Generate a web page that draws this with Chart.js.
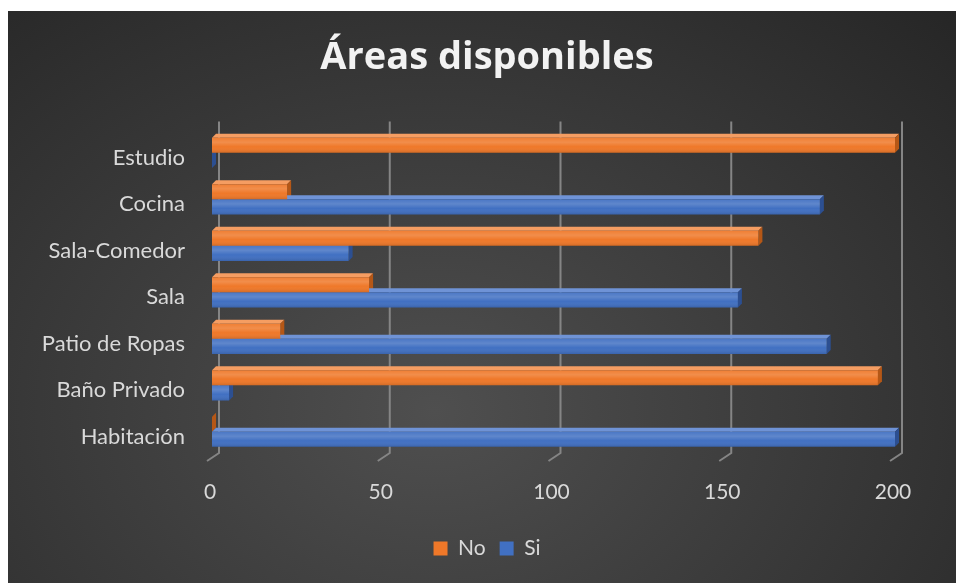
<!DOCTYPE html>
<html>
<head>
<meta charset="utf-8">
<script src="https://cdn.jsdelivr.net/npm/chart.js@4"></script>
<style>
html, body { margin: 0; padding: 0; background: #fff; }
#wrap {
  position: absolute; left: 8px; top: 11px; width: 948px; height: 572px;
  background: radial-gradient(ellipse farthest-corner at 45% 70%, #4f4f4f 0%, #262626 100%);
}
</style>
</head>
<body>
<div id="wrap"><canvas id="chartAreas"></canvas></div>
<script>
// data
var categories = ['Estudio', 'Cocina', 'Sala-Comedor', 'Sala', 'Patio de Ropas', 'Baño Privado', 'Habitación'];
var noValues = [200, 22, 160, 46, 20, 195, 0];
var siValues = [0, 178, 40, 154, 180, 5, 200];
var xTicks = [0, 50, 100, 150, 200];

var textColor = '#d9d9d9';

function eachBar(chart, fn) {
  chart.data.datasets.forEach(function(ds, i) {
    chart.getDatasetMeta(i).data.forEach(function(bar) {
      var p = bar.getProps(['x', 'y', 'base', 'height'], true);
      fn(ds, p, p.y - p.height / 2, p.y + p.height / 2);
    });
  });
}

// fake 3D: back grid lines + top / side faces of the bars
var depthPlugin = {
  id: 'depth3d',
  beforeDatasetsDraw: function(chart) {
    var ctx = chart.ctx, area = chart.chartArea, xs = chart.scales.x;
    ctx.save();
    ctx.strokeStyle = '#858585';
    ctx.lineWidth = 2;
    xTicks.forEach(function(v) {
      var px = xs.getPixelForValue(v);
      ctx.beginPath();
      ctx.moveTo(px - 5, area.bottom + 6);
      ctx.lineTo(px + 7, area.bottom - 2);
      ctx.lineTo(px + 7, area.top - 8);
      ctx.stroke();
    });
    var d = 4;
    eachBar(chart, function(ds, p, top, bot) {
      ctx.fillStyle = ds.topColor;
      ctx.beginPath();
      ctx.moveTo(p.base, top);
      ctx.lineTo(p.base + d, top - d);
      ctx.lineTo(p.x + d, top - d);
      ctx.lineTo(p.x, top);
      ctx.closePath();
      ctx.fill();
      ctx.fillStyle = ds.sideColor;
      ctx.beginPath();
      ctx.moveTo(p.x, top);
      ctx.lineTo(p.x + d, top - d);
      ctx.lineTo(p.x + d, bot - d);
      ctx.lineTo(p.x, bot);
      ctx.closePath();
      ctx.fill();
    });
    ctx.restore();
  },
  afterDatasetsDraw: function(chart) {
    // shading on the bar fronts
    var ctx = chart.ctx;
    ctx.save();
    eachBar(chart, function(ds, p, top, bot) {
      if (p.x - p.base < 1) return;
      var g = ctx.createLinearGradient(0, top, 0, bot);
      g.addColorStop(0, 'rgba(255,255,255,0.05)');
      g.addColorStop(0.3, 'rgba(255,255,255,0.16)');
      g.addColorStop(0.6, 'rgba(255,255,255,0)');
      g.addColorStop(1, 'rgba(0,0,0,0.12)');
      ctx.fillStyle = g;
      ctx.fillRect(p.base, top, p.x - p.base, bot - top);
    });
    ctx.restore();
  }
};

var ctx = document.getElementById('chartAreas');
var chartAreas = new Chart(ctx, {
  type: 'bar',
  data: {
    labels: categories,
    datasets: [{
      label: 'No',
      data: noValues,
      backgroundColor: '#EF7829',
      topColor: '#F59D62',
      sideColor: '#B55716',
      categoryPercentage: 0.65,
      barPercentage: 1
    }, {
      label: 'Si',
      data: siValues,
      backgroundColor: '#4170C2',
      topColor: '#6F93D6',
      sideColor: '#2C4F91',
      categoryPercentage: 0.65,
      barPercentage: 1
    }]
  },
  options: {
    indexAxis: 'y',
    responsive: true,
    maintainAspectRatio: false,
    animation: false,
    layout: { padding: { left: 10, right: 0, top: 0, bottom: 14 } },
    plugins: {
      title: {
        display: true,
        text: 'Áreas disponibles',
        color: '#f2f2f2',
        font: { family: 'Open Sans', size: 38, weight: 'bold' },
        padding: { top: 24, bottom: 49 }
      },
      legend: {
        position: 'bottom',
        labels: {
          color: textColor,
          font: { family: 'Lato', size: 21 },
          boxWidth: 14,
          boxHeight: 14,
          padding: 14
        }
      },
      tooltip: { enabled: false }
    },
    scales: {
      x: {
        min: 0,
        max: 200,
        afterBuildTicks: function(scale) {
          scale.ticks = xTicks.map(function(v) { return { value: v }; });
        },
        afterFit: function(scale) { scale.height = 69; },
        grid: { display: false, drawTicks: false },
        border: { display: false },
        ticks: { color: textColor, font: { family: 'Lato', size: 21 }, padding: 25, labelOffset: -2 }
      },
      y: {
        afterFit: function(scale) { scale.width = 194; },
        grid: { display: false, drawTicks: false },
        border: { display: false },
        ticks: { color: textColor, font: { family: 'Lato', size: 22 }, padding: 27, labelOffset: 5 }
      },
      // empty right axis keeps room on the right without shifting the title
      yRight: {
        position: 'right',
        afterFit: function(scale) { scale.width = 61; },
        grid: { display: false, drawTicks: false },
        border: { display: false },
        ticks: { display: false }
      }
    }
  },
  plugins: [depthPlugin]
});
</script>
</body>
</html>
